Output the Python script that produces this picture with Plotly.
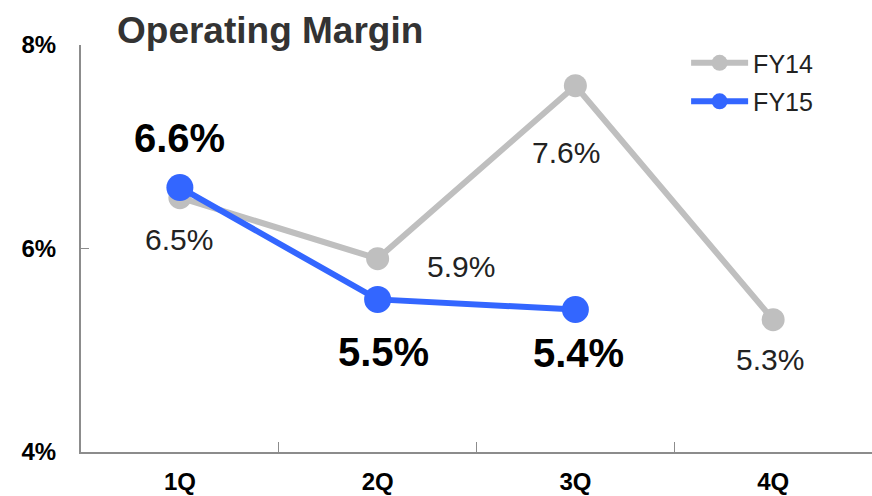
import plotly.graph_objects as go

# ---------------------------------------------------------------------------
# Data
# ---------------------------------------------------------------------------
quarters = ['1Q', '2Q', '3Q', '4Q']
fy14 = [6.5, 5.9, 7.6, 5.3]
fy15 = [6.6, 5.5, 5.4]

# label offsets (px) relative to each point: (dx, dy), dy down positive
fy14_offsets = [(-1, 42), (83, 8), (-9, 67), (-3, 40)]
fy15_offsets = [(0, -49), (6, 53), (3, 43)]

GRAY = '#BFBFBF'
BLUE = '#3366FF'
AXIS = '#8C8C8C'
FONT = 'Liberation Sans, Arial, sans-serif'

fig = go.Figure()

fig.add_trace(go.Scatter(
    x=quarters, y=fy14, name='FY14', mode='lines+markers',
    line=dict(color=GRAY, width=6),
    marker=dict(color=GRAY, size=23),
    legendgroup='fy14',
))
fig.add_trace(go.Scatter(
    x=quarters[:len(fy15)], y=fy15, name='FY15', mode='lines+markers',
    line=dict(color=BLUE, width=6),
    marker=dict(color=BLUE, size=27),
    legendgroup='fy15',
))

for q, v, (dx, dy) in zip(quarters, fy14, fy14_offsets):
    fig.add_annotation(x=q, y=v, text=f'{v:.1f}%', showarrow=False,
                       xshift=dx, yshift=-dy,
                       font=dict(family=FONT, size=30, color='#222222'))

for q, v, (dx, dy) in zip(quarters, fy15, fy15_offsets):
    fig.add_annotation(x=q, y=v, text=f'<b>{v:.1f}%</b>', showarrow=False,
                       xshift=dx, yshift=-dy,
                       font=dict(family=FONT, size=40, color='#000000'))

fig.update_layout(
    width=872, height=496,
    margin=dict(l=81, r=0, t=45, b=44),
    plot_bgcolor='white', paper_bgcolor='white',
    title=dict(text='<b>Operating Margin</b>', x=117 / 872, xanchor='left',
               y=1 - 30 / 496, yanchor='middle',
               font=dict(family=FONT, size=37, color='#333333')),
    legend=dict(x=0.765, y=1.012, xanchor='left', yanchor='top',
                font=dict(family=FONT, size=25, color='#222222'),
                bgcolor='rgba(0,0,0,0)', itemwidth=57,
                traceorder='grouped', tracegroupgap=3),
    showlegend=True,
)

fig.update_xaxes(
    type='category', range=[-0.5, 3.5], automargin=False,
    showline=True, linecolor=AXIS, linewidth=2,
    showgrid=False, zeroline=False,
    tickson='boundaries', ticks='inside', ticklen=10, tickcolor=AXIS, tickwidth=1,
    tickfont=dict(family=FONT, size=24, color='#000000'),
    ticklabelstandoff=7,
    tickprefix='<b>', ticksuffix='</b>',
)

fig.update_yaxes(
    range=[4, 8], tickvals=[4, 6, 8], ticktext=['<b>4%</b>', '<b>6%</b>', '<b>8%</b>'],
    automargin=False,
    showline=True, linecolor=AXIS, linewidth=2,
    showgrid=False, zeroline=False,
    ticks='inside', ticklen=8, tickcolor=AXIS, tickwidth=1,
    tickfont=dict(family=FONT, size=24, color='#000000'),
    ticklabelstandoff=18,
)

fig.write_html('out.html', config={'displayModeBar': False},
               post_script="document.body.style.margin='0';")
